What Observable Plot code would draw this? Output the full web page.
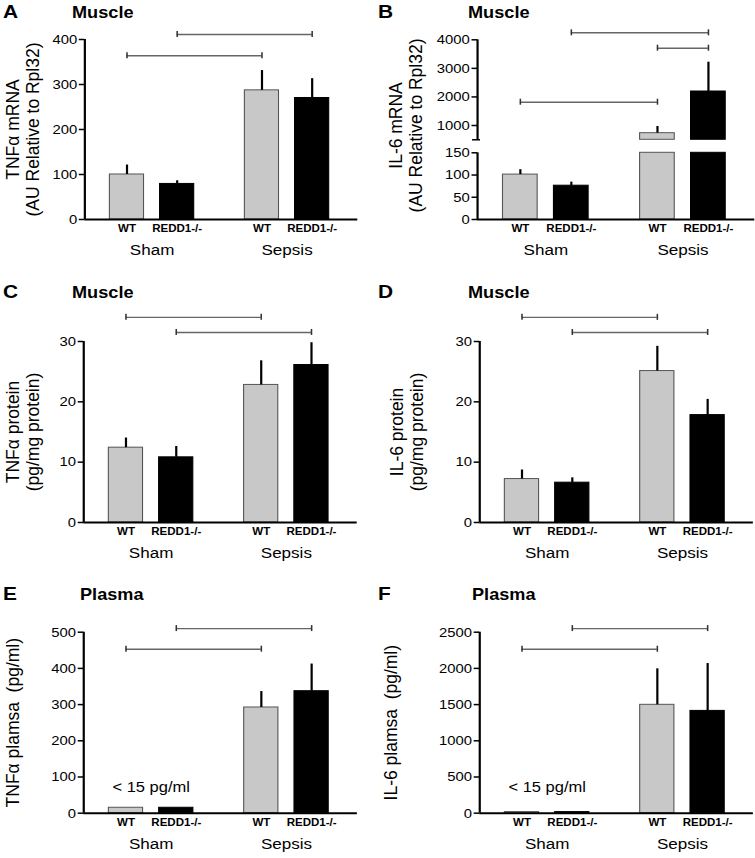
<!DOCTYPE html>
<html><head><meta charset="utf-8">
<script src="https://cdn.jsdelivr.net/npm/d3@7"></script>
<script src="https://cdn.jsdelivr.net/npm/@observablehq/plot@0.6"></script>
<style>
html,body{margin:0;padding:0;background:#fff;overflow:hidden;}
#stage{position:relative;height:858px;transform-origin:0 0;font-family:"Liberation Sans",Arial,sans-serif;color:#000;}
#stage svg text{white-space:pre;}
.lab{position:absolute;line-height:1;font-weight:bold;white-space:nowrap;}
</style></head><body><div id="stage"></div>
<script>
// ---------------- data ----------------
const groups = ["Sham", "Sepsis"];
const genotypes = ["WT", "REDD1-/-"];
// order of values: Sham WT, Sham REDD1-/-, Sepsis WT, Sepsis REDD1-/-
const tnfMrnaMean = [100, 79, 287, 270];
const tnfMrnaErr  = [21, 7, 44, 43];
const il6MrnaMean = [101, 76, 731, 2190];
const il6MrnaErr  = [11, 8, 234, 1026];
const tnfProtMean = [12.4, 10.8, 22.8, 26.1];
const tnfProtErr  = [1.6, 1.8, 4.0, 3.7];
const il6ProtMean = [7.2, 6.6, 25.1, 17.8];
const il6ProtErr  = [1.5, 0.8, 4.1, 2.6];
const tnfPlasmaMean = [15, 15, 292, 337];
const tnfPlasmaErr  = [0, 0, 44, 75];
const il6PlasmaMean = [15, 15, 1497, 1413];
const il6PlasmaErr  = [0, 0, 497, 654];
// significance brackets: [from bar, to bar, height in data units]
const tnfMrnaBrackets = [[0, 2, 364], [1, 3, 411]];
const il6MrnaBrackets = [[0, 2, 1816], [2, 3, 3706], [1, 3, 4245]];
const tnfProtBrackets = [[0, 2, 34.0], [1, 3, 31.5]];
const il6ProtBrackets = [[0, 2, 34.0], [1, 3, 31.5]];
const tnfPlasmaBrackets = [[0, 2, 453], [1, 3, 510]];
const il6PlasmaBrackets = [[0, 2, 2265], [1, 3, 2550]];
const tnfMrnaTicks = [0, 100, 200, 300, 400];
const il6MrnaTicksHigh = [1000, 2000, 3000, 4000];
const il6MrnaTicksLow = [0, 50, 100, 150];
const proteinTicks = [0, 10, 20, 30];
const tnfPlasmaTicks = [0, 100, 200, 300, 400, 500];
const il6PlasmaTicks = [0, 500, 1000, 1500, 2000, 2500];

// ---------------- layout ----------------
const K = 1.1; // horizontal stretch of the whole figure
const GROUP_STEP = 2.69, HALF = 0.34;
const X_DOMAIN = [-0.84, 4.6];
const FONT = '"Liberation Sans", Arial, sans-serif';
const stage = document.getElementById("stage");
stage.style.width = (755 / K) + "px";
stage.style.transform = `scaleX(${K})`;

const bars = groups.flatMap((g, gi) => genotypes.map((k, ki) => ({group: g, genotype: k, gi, ki, idx: gi * 2 + ki})));
const pos = b => b.gi * GROUP_STEP + b.ki;
const FILL = {"WT": "#c8c8c8", "REDD1-/-": "#000"};
const STROKE = {"WT": "#555", "REDD1-/-": "#000"};

function addLabel(text, x, baseline, size) {
  const d = document.createElement("div");
  d.className = "lab";
  d.textContent = text;
  d.style.fontSize = size + "px";
  d.style.left = (x / K) + "px";
  d.style.top = (baseline - 0.8465 * size) + "px";
  stage.appendChild(d);
}

function makePlot(o) {
  const left = o.axisX - 92;
  const right = Math.min(o.axisEndX + 4, 755);
  const width = (right - left) / K;
  const marginLeft = (o.axisX - left) / K;
  const marginRight = (right - o.axisEndX) / K;
  const marginTop = o.yTop - o.top;
  const marginBottom = o.top + o.height - o.yBottom;
  const d0 = o.domain[0], d1 = o.domain[1];
  const data = bars.map(b => ({...b, x: pos(b), mean: o.means[b.idx], err: o.errs[b.idx]}));
  const shown = data.filter(o.barFilter || (() => true));
  const clip = v => Math.min(v, d1);
  const marks = [];
  // bars
  marks.push(Plot.rectY(shown, {
    x1: d => d.x - HALF, x2: d => d.x + HALF,
    y1: d0, y2: d => clip(d.mean),
    fill: d => FILL[d.genotype], stroke: d => STROKE[d.genotype], strokeWidth: 1
  }));
  // error bars (upper only)
  const errs = shown.filter(d => d.err > 0 && (o.errFilter ? o.errFilter(d) : true));
  marks.push(Plot.ruleX(errs, {x: "x", y1: "mean", y2: d => d.mean + d.err, stroke: "#000", strokeWidth: 2}));
  // axes lines
  marks.push(Plot.ruleX([X_DOMAIN[0]], {y1: d0, y2: d1, stroke: "#000", strokeWidth: 2}));
  if (o.bottomAxis !== false) marks.push(Plot.ruleY([d0], {stroke: "#000", strokeWidth: 2}));
  marks.push(Plot.axisY({ticks: o.ticks, tickFormat: "d", tickSize: 5, tickPadding: 2, fontSize: 13.5,
    strokeWidth: 1.5, label: null, stroke: "#000", color: "#000"}));
  if (o.capAt != null) {
    marks.push(Plot.ruleY([o.capAt], {x1: X_DOMAIN[0], x2: X_DOMAIN[0], insetLeft: -5 / K, insetRight: -3 / K, stroke: "#000", strokeWidth: 1.5}));
  }
  // brackets
  if (o.brackets) {
    const br = o.brackets.map(([a, b, y]) => ({x1: pos(bars[a]), x2: pos(bars[b]), y}));
    marks.push(Plot.ruleY(br, {x1: "x1", x2: "x2", y: "y", stroke: "#666", strokeWidth: 1.4}));
    const ends = br.flatMap(d => [{x: d.x1, y: d.y}, {x: d.x2, y: d.y}]);
    marks.push(Plot.ruleX(ends, {x: "x", y1: "y", y2: "y", insetTop: -3, insetBottom: -3, stroke: "#333", strokeWidth: 1.4}));
  }
  // x labels
  if (o.bottomAxis !== false) {
    marks.push(Plot.text(data, {x: "x", text: "genotype", frameAnchor: "bottom", dy: 12.8,
      fontWeight: "bold", fontSize: 10.5, fill: "#000"}));
    marks.push(Plot.text(groups, {x: (g, i) => i * GROUP_STEP + 0.5, text: d => d, frameAnchor: "bottom",
      dy: 35.5, fontSize: 15.5, fill: "#000"}));
  }
  if (o.note) {
    marks.push(Plot.text([o.note], {x: () => (pos(bars[0]) + pos(bars[1])) / 2, text: d => d,
      frameAnchor: "bottom", dy: -21.5, fontSize: 15, fill: "#000"}));
  }
  if (o.ylabel) {
    marks.push(Plot.text([o.ylabel], {text: d => d, frameAnchor: "left", textAnchor: "middle", lineAnchor: "middle",
      rotate: -90, dx: (o.labelX - o.axisX) / K, dy: o.labelDy || 0, fontSize: 17.5,
      lineHeight: (20 / K) / 17.5, fill: "#000"}));
  }
  const svg = Plot.plot({
    width, height: o.height, marginLeft, marginRight, marginTop, marginBottom,
    x: {domain: X_DOMAIN, axis: null},
    y: {domain: o.domain, axis: null},
    style: {fontFamily: FONT, background: "transparent", overflow: "visible", color: "#000"},
    marks
  });
  svg.style.position = "absolute";
  svg.style.left = (left / K) + "px";
  svg.style.top = o.top + "px";
  stage.appendChild(svg);
}

// ---- Panel A ----
makePlot({axisX: 84, axisEndX: 357, top: 22, height: 245, yTop: 39, yBottom: 219, domain: [0, 400],
  ticks: tnfMrnaTicks, means: tnfMrnaMean, errs: tnfMrnaErr, brackets: tnfMrnaBrackets,
  ylabel: "TNFα mRNA\n(AU Relative to Rpl32)", labelX: 22});
addLabel("A", 3, 18, 19); addLabel("Muscle", 72, 18, 16.5);

// ---- Panel B (broken axis) ----
makePlot({axisX: 476.7, axisEndX: 754, top: 22, height: 119.3, yTop: 39.3, yBottom: 139.3, domain: [500, 4000],
  ticks: il6MrnaTicksHigh, means: il6MrnaMean, errs: il6MrnaErr, brackets: il6MrnaBrackets,
  barFilter: d => d.mean > 500, bottomAxis: false, capAt: 500});
makePlot({axisX: 476.7, axisEndX: 754, top: 145, height: 122, yTop: 152.3, yBottom: 219, domain: [0, 150],
  ticks: il6MrnaTicksLow, means: il6MrnaMean, errs: il6MrnaErr, errFilter: d => d.mean + d.err <= 150,
  ylabel: "IL-6 mRNA\n(AU Relative to Rpl32)", labelX: 405, labelDy: -60.7});
addLabel("B", 378, 18, 19); addLabel("Muscle", 468, 18, 16.5);

// ---- Panel C ----
makePlot({axisX: 83.5, axisEndX: 357, top: 305, height: 265, yTop: 341, yBottom: 522, domain: [0, 30],
  ticks: proteinTicks, means: tnfProtMean, errs: tnfProtErr, brackets: tnfProtBrackets,
  ylabel: "TNFα protein\n(pg/mg protein)", labelX: 22});
addLabel("C", 3, 298, 19); addLabel("Muscle", 72, 298, 16.5);

// ---- Panel D ----
makePlot({axisX: 479.3, axisEndX: 753, top: 305, height: 265, yTop: 341, yBottom: 522, domain: [0, 30],
  ticks: proteinTicks, means: il6ProtMean, errs: il6ProtErr, brackets: il6ProtBrackets,
  ylabel: "IL-6 protein\n(pg/mg protein)", labelX: 406});
addLabel("D", 378, 298, 19); addLabel("Muscle", 468, 298, 16.5);

// ---- Panel E ----
makePlot({axisX: 83.3, axisEndX: 357, top: 612, height: 246, yTop: 631.7, yBottom: 812.7, domain: [0, 500],
  ticks: tnfPlasmaTicks, means: tnfPlasmaMean, errs: tnfPlasmaErr, brackets: tnfPlasmaBrackets,
  ylabel: "TNFα plamsa  (pg/ml)", labelX: 12, note: "< 15 pg/ml"});
addLabel("E", 3, 600, 19); addLabel("Plasma", 80, 600, 16.5);

// ---- Panel F ----
makePlot({axisX: 479.3, axisEndX: 753, top: 612, height: 246, yTop: 631.7, yBottom: 812.7, domain: [0, 2500],
  ticks: il6PlasmaTicks, means: il6PlasmaMean, errs: il6PlasmaErr, brackets: il6PlasmaBrackets,
  ylabel: "IL-6 plamsa  (pg/ml)", labelX: 390, note: "< 15 pg/ml"});
addLabel("F", 378, 600, 19); addLabel("Plasma", 472, 600, 16.5);
</script></body></html>
